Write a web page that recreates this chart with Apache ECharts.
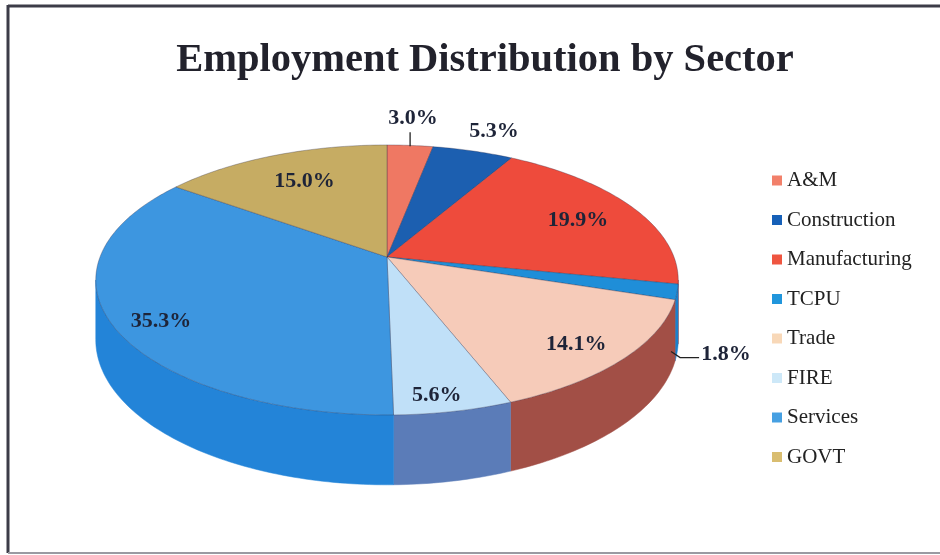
<!DOCTYPE html>
<html><head><meta charset="utf-8">
<script src="https://cdn.jsdelivr.net/npm/echarts@6/dist/echarts.min.js"></script>
<style>html,body{margin:0;padding:0;background:#fff}#c{width:940px;height:555px}</style>
</head><body><div id="c"></div>
<script>
// ---- data ----
const sectors = ['A&M','Construction','Manufacturing','TCPU','Trade','FIRE','Services','GOVT'];
const shares = [3.0, 5.3, 19.9, 1.8, 14.1, 5.6, 35.3, 15.0];

// ---- styles ----
const topColors = ['#ef7863','#1c5fb0','#ee4b3c','#1f8ed8','#f6cbb9','#c0e0f8','#3d96e0','#c6ac63'];
const sideColors = ['#c85a48','#154a8c','#b83628','#1a80cc','#a24f46','#5b7cb8','#2384d8','#9c8648'];
const legendColors = ['#f2806a','#1660b8','#ef5540','#2196dc','#f8d8b8','#cde8f8','#46a0e2','#d9bd70'];
// label placement: radius fraction, depth fraction, pixel offsets, leader type
const labelCfg = [
  {r:1.0, h:0, dx:3, dy:-27, leader:'up'},
  {r:1.0, h:0, dx:21, dy:-20},
  {r:0.77, h:0, dx:0, dy:3},
  {r:1.0, h:1, dx:49, dy:2, leader:'side'},
  {r:0.82, h:0, dx:0, dy:6},
  {r:0.9, h:0, dx:-9, dy:2},
  {r:0.83, h:0, dx:0, dy:10},
  {r:0.7, h:0, dx:0, dy:-2}
];

// ---- projection (perspective tilted disc) ----
const CX = 387, CY = 257, KX = 287, KY = 131.1, P = 0.17, H = 58;
function proj(t, r, h) {
  const u = r * Math.sin(t), v = -r * Math.cos(t);
  const w = 1 - P * v;
  return [CX + KX * u / w, CY + (KY * v + h) / w];
}
const total = shares.reduce((a, b) => a + b, 0);
const starts = [];
let acc = 0;
shares.forEach(s => { starts.push(acc); acc += s; });
const S1 = Math.acos(-P), S2 = 2 * Math.PI - Math.acos(-P);

function arc(a0, a1, r, h) {
  const pts = [];
  const n = Math.max(2, Math.ceil((a1 - a0) / (Math.PI / 180)));
  for (let k = 0; k <= n; k++) pts.push(proj(a0 + (a1 - a0) * k / n, r, h));
  return pts;
}

function makeRender(i) {
  return function (params, api) {
    const val = api.value(0);
    const a0 = starts[i] / total * 2 * Math.PI;
    const a1 = (starts[i] + val) / total * 2 * Math.PI;
    const children = [];
    // outer wall (visible front part)
    const b0 = Math.max(a0, S1), b1 = Math.min(a1, S2);
    if (b1 > b0) {
      const topArc = arc(b0, b1, 1, 0);
      const botArc = arc(b0, b1, 1, H).reverse();
      children.push({type:'polygon', z2:1, shape:{points: topArc.concat(botArc)},
        style:{fill: sideColors[i], stroke: sideColors[i], lineWidth: 0.5}});
    }
    // top face
    const pts = [proj(0, 0, 0)].concat(arc(a0, a1, 1, 0));
    children.push({type:'polygon', z2:5, shape:{points: pts},
      style:{fill: topColors[i], stroke: 'rgba(40,40,70,0.45)', lineWidth: 0.7}});
    // label
    const c = labelCfg[i];
    const mid = (a0 + a1) / 2;
    const anchor = proj(mid, c.r, c.h * H);
    const lx = anchor[0] + c.dx, ly = anchor[1] + c.dy;
    if (c.leader === 'up') {
      children.push({type:'polyline', z2:9, shape:{points:[[anchor[0], anchor[1] + 1], [anchor[0], ly + 14]]},
        style:{stroke:'#222', lineWidth:1.3, fill:null}});
    } else if (c.leader === 'side') {
      const sx = anchor[0] - 6, sy = anchor[1] - 1;
      children.push({type:'polyline', z2:9, shape:{points:[[sx, sy], [sx + 9, sy + 6], [lx - 27, sy + 6]]},
        style:{stroke:'#222', lineWidth:1.3, fill:null}});
    }
    children.push({type:'text', z2:10, style:{
      text: val.toFixed(1) + '%', x: lx, y: ly, align:'center', verticalAlign:'middle',
      font: 'bold 22px "Liberation Serif", "Times New Roman", serif', fill: '#1e2438'}});
    return {type:'group', children};
  };
}

const series = sectors.map((name, i) => ({
  type: 'custom', name, coordinateSystem: 'none',
  itemStyle: {color: legendColors[i]},
  data: [[shares[i]]],
  renderItem: makeRender(i)
}));

const chart = echarts.init(document.getElementById('c'), null, {renderer: 'canvas'});
chart.setOption({
  backgroundColor: '#ffffff',
  animation: false,
  title: {
    text: 'Employment Distribution by Sector', left: 480, top: 35, textAlign: 'center',
    textStyle: {fontFamily: '"Liberation Serif", "Times New Roman", serif', fontWeight: 'bold', fontSize: 40.5, color: '#22222c'}
  },
  legend: {
    orient: 'vertical', left: 772, top: 170, padding: 0, icon: 'rect', itemWidth: 10, itemHeight: 10,
    itemGap: 18.5, itemTextGap: 6, data: sectors,
    textStyle: {fontFamily: '"Liberation Serif", "Times New Roman", serif', fontSize: 21, lineHeight: 20, color: '#222'}
  },
  graphic: [
    {type:'line', shape:{x1:8, y1:6, x2:940, y2:6}, style:{stroke:'#3c3c48', lineWidth:3}},
    {type:'line', shape:{x1:8, y1:5, x2:8, y2:553}, style:{stroke:'#3c3c48', lineWidth:3}},
    {type:'line', shape:{x1:8, y1:553, x2:940, y2:553}, style:{stroke:'#9a9aa2', lineWidth:2}}
  ],
  series
});
</script></body></html>
